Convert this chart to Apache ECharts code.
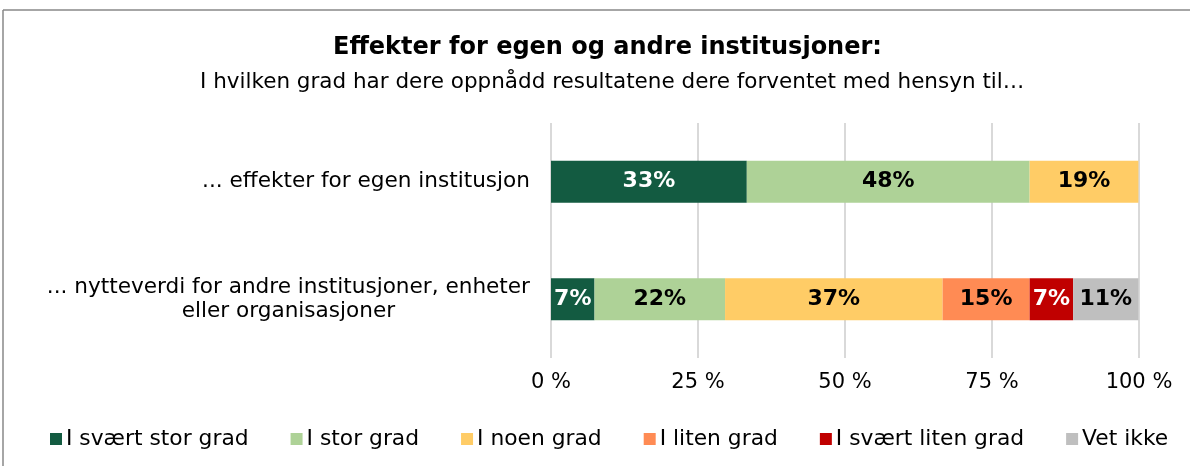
<!DOCTYPE html>
<html>
<head>
<meta charset="utf-8">
<script src="https://cdn.jsdelivr.net/npm/echarts@6/dist/echarts.min.js"></script>
<style>
  html, body { margin: 0; padding: 0; background: #fff; }
  #chart { width: 1190px; height: 466px; }
</style>
</head>
<body>
<div id="chart"></div>
<script>
// categories (top to bottom)
const categories = [
  '... effekter for egen institusjon',
  '... nytteverdi for andre institusjoner, enheter\neller organisasjoner'
]
const seriesNames = ['I svært stor grad', 'I stor grad', 'I noen grad', 'I liten grad', 'I svært liten grad', 'Vet ikke']
const colors = ['#135B41', '#AED297', '#FFCC66', '#FF8B54', '#C00000', '#BFBFBF']
const labelColors = ['#fff', '#000', '#000', '#000', '#fff', '#000']
// percent per category, one array per answer
const svaertStor = [33.3, 7.4]
const stor = [48.1, 22.2]
const noen = [18.5, 37.0]
const liten = [0, 14.8]
const svaertLiten = [0, 7.4]
const vetIkke = [0, 11.1]
const tickLabels = ['0 %', '25 %', '50 %', '75 %', '100 %']

const values = [svaertStor, stor, noen, liten, svaertLiten, vetIkke]
const font = 'DejaVu Sans'

let chart = echarts.init(document.getElementById('chart'))

let series = seriesNames.map((name, i) => {
  return {
    name: name,
    type: 'bar',
    stack: 'total',
    barWidth: 42,
    itemStyle: { color: colors[i] },
    label: {
      show: true,
      formatter: p => p.value > 0 ? Math.round(p.value) + '%' : '',
      color: labelColors[i],
      fontFamily: font,
      fontWeight: 'bold',
      fontSize: 22
    },
    data: values[i]
  }
})

chart.setOption({
  animation: false,
  textStyle: { fontFamily: font },
  title: [
    {
      text: 'Effekter for egen og andre institusjoner:',
      left: 328,
      top: 31,
      textStyle: { fontFamily: font, fontSize: 24, fontWeight: 'bold', color: '#000' }
    },
    {
      text: 'I hvilken grad har dere oppnådd resultatene dere forventet med hensyn til…',
      left: 195,
      top: 66,
      textStyle: { fontFamily: font, fontSize: 21.5, fontWeight: 'normal', color: '#000' }
    }
  ],
  graphic: [
    { type: 'line', shape: { x1: 3, y1: 10, x2: 1190, y2: 10 }, style: { stroke: '#888', lineWidth: 1.5 } },
    { type: 'line', shape: { x1: 3, y1: 10, x2: 3, y2: 466 }, style: { stroke: '#888', lineWidth: 1.5 } }
  ],
  legend: {
    bottom: 11,
    left: 45,
    itemWidth: 12,
    itemHeight: 12,
    itemGap: 42,
    icon: 'rect',
    textStyle: { fontFamily: font, fontSize: 21.8, color: '#000', padding: [0, 0, 0, -1] },
    data: seriesNames
  },
  grid: { left: 551, right: 51, top: 123, bottom: 108 },
  xAxis: {
    type: 'value',
    min: 0,
    max: 100,
    interval: 25,
    axisLine: { show: false },
    axisTick: { show: false },
    splitLine: { lineStyle: { color: '#D9D9D9', width: 2 } },
    axisLabel: {
      margin: 14,
      fontFamily: font,
      fontSize: 21,
      color: '#000',
      formatter: (v) => tickLabels[v / 25]
    }
  },
  yAxis: {
    type: 'category',
    inverse: true,
    data: categories,
    axisLine: { show: false },
    axisTick: { show: false },
    axisLabel: {
      margin: 21,
      align: 'right',
      formatter: (v) => v.split('\n').map(s => '{c|' + s + '}').join('\n'),
      rich: {
        c: { align: 'center', fontFamily: font, fontSize: 21.6, color: '#000', lineHeight: 24 }
      }
    }
  },
  series: series
})
</script>
</body>
</html>
